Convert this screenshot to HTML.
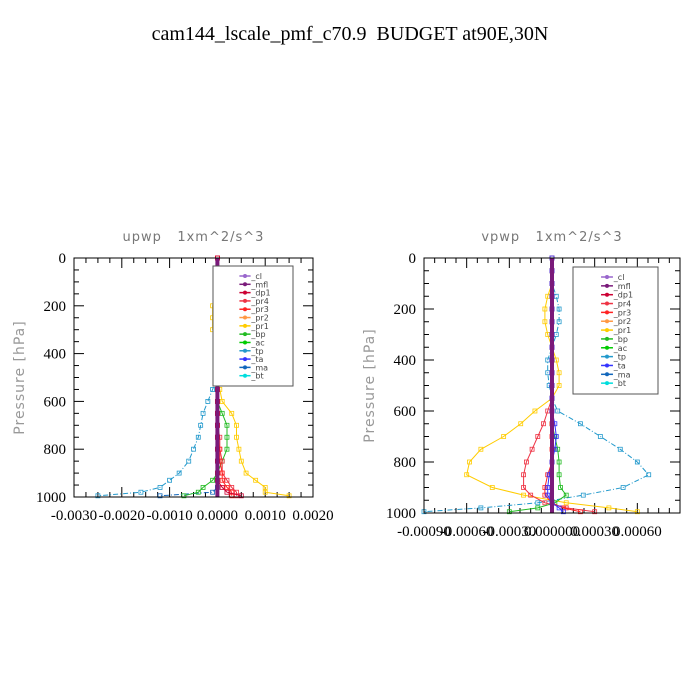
<!DOCTYPE html>
<html><head><meta charset="utf-8"><style>
html,body{margin:0;padding:0;background:#fff;}
svg{display:block;}
text{white-space:pre;}
</style></head><body>
<svg id="chart" width="700" height="700" xmlns="http://www.w3.org/2000/svg">
<text x="350" y="40" text-anchor="middle" font-family="Liberation Serif, serif" font-size="20" fill="#000" xml:space="preserve">cam144_lscale_pmf_c70.9  BUDGET at90E,30N</text>
</svg>
<script>
const levels=[0,50,100,150,200,250,300,350,400,450,500,550,600,650,700,750,800,850,900,930,960,980,995];
const seriesNames=["_cl","_mfl","_dp1","_pr4","_pr3","_pr2","_pr1","_bp","_ac","_tp","_ta","_ma","_bt"];
const seriesColors=["#9966cc","#7a1a7a","#cc0033","#ee3344","#ff2222","#ff9944","#ffcc00","#22bb22","#00cc00","#2299cc","#3333ff","#1166bb","#00dddd"];
// upwp values (m^2/s^3)
const upwpTp=[0,0,0,0,0,0,0,0,0,0,0,-0.0001,-0.0002,-0.0003,-0.00035,-0.0004,-0.0005,-0.0006,-0.0008,-0.001,-0.0012,-0.0016,-0.0025];
const upwpPr1=[0,0,0,-0.00005,-0.0001,-0.0001,-0.0001,0,0,0,0,0.00005,0.0001,0.0003,0.0004,0.0004,0.00045,0.0005,0.0006,0.0008,0.001,0.001,0.0015];
const upwpBp=[0,0,0,0,0,0,0,0,0,0,0,0,0,0.0001,0.0002,0.0002,0.0002,0.0001,0,-0.0001,-0.0003,-0.0004,-0.0007];
const upwpPr4=[0,0,0,0,0,0,0,0,0,0,0,0,0,0,0,0.00005,0.00005,0.0001,0.0001,0.0002,0.0003,0.0004,0.0004];
const upwpPr3=[0,0,0,0,0,0,0,0,0,0,0,0,0,0,0,0,0.00005,0.00005,0.0001,0.0001,0.0002,0.0003,0.0003];
const upwpDp1=[0,0,0,0,0,0,0,0,0,0,0,0,0,0,0,0,0,0,0,0,0.0001,0.0002,0.0005];
const upwpMa=[0,0,0,0,0,0,0,0,0,0,0,0,0,0,0,0,0,0,0,0,0,-0.0001,-0.0012];
// vpwp values
const vpwpTp=[0,0,0,0.00003,0.00005,0.00005,0.00003,0,-0.00003,-0.00003,-0.00002,0,0.00004,0.0002,0.00034,0.00048,0.0006,0.00068,0.0005,0.00022,-0.0001,-0.0005,-0.0009];
const vpwpPr1=[0,0,0,-0.00003,-0.00005,-0.00005,-0.00003,0,0.00003,0.00005,0.00005,0,-0.00012,-0.00022,-0.00034,-0.0005,-0.00058,-0.0006,-0.00042,-0.0002,0.0001,0.0004,0.0006];
const vpwpPr4=[0,0,0,0,0,0,0,0,0,0,0,0,-0.00003,-0.00006,-0.0001,-0.00014,-0.00018,-0.0002,-0.0002,-0.00015,-0.00005,0.0001,0.0003];
const vpwpBp=[0,0,0,0,0,0,0,0,0,0,0,0,0,0,0.00002,0.00004,0.00005,0.00005,0.00006,0.0001,0.00002,-0.0001,-0.0003];
const vpwpPr3=[0,0,0,0,0,0,0,0,0,0,0,0,0,0,0,0,0,-0.00003,-0.00005,-0.00005,0,0.00008,0.0002];
const vpwpTa=[0,0,0,0,0,0,0,0,0,0,0,0,0,0.00002,0.00003,0.00002,0,-0.00002,-0.00003,-0.00003,0,0.00005,0.00008];
const upwpXTicks=[-0.003,-0.002,-0.001,0,0.001,0.002];
const upwpXLabels=["-0.0030","-0.0020","-0.0010","0.0000","0.0010","0.0020"];
const vpwpXTicks=[-0.0009,-0.0006,-0.0003,0,0.0003,0.0006];
const vpwpXLabels=["-0.00090","-0.00060","-0.00030","0.000000","0.00030","0.00060"];
const yTicks=[0,200,400,600,800,1000];
const NS="http://www.w3.org/2000/svg";
const svg=document.getElementById('chart');
function mk(tag,attrs,parent){const e=document.createElementNS(NS,tag);for(const k in attrs)e.setAttribute(k,attrs[k]);(parent||svg).appendChild(e);return e;}
function panel(cfg){
  const g=mk('g',{});
  
  
  const X=v=>cfg.x0+(v-cfg.xmin)/(cfg.xmax-cfg.xmin)*(cfg.x1-cfg.x0);
  const Y=p=>cfg.y0+p/1000*(cfg.y1-cfg.y0);
  const t=mk('text',{x:(cfg.x0+cfg.x1)/2,y:cfg.y0-17,'text-anchor':'middle','font-family':'DejaVu Sans, sans-serif','font-size':'13',fill:'#777','letter-spacing':'1'},g);
  t.textContent=cfg.title;
  
  
  const yt=mk('text',{transform:`translate(${cfg.x0-50},${(cfg.y0+cfg.y1)/2}) rotate(-90)`,'text-anchor':'middle','font-family':'DejaVu Sans, sans-serif','font-size':'14',fill:'#999','letter-spacing':'1'},g);
  yt.textContent='Pressure [hPa]';
  
  
  for(let p=0;p<=1000;p+=50){
    const len=p%200===0?10:5;
    mk('line',{x1:cfg.x0,x2:cfg.x0+len,y1:Y(p),y2:Y(p),stroke:'#000'},g);
    mk('line',{x1:cfg.x1,x2:cfg.x1-len,y1:Y(p),y2:Y(p),stroke:'#000'},g);
  }
  yTicks.forEach(p=>{const l=mk('text',{x:cfg.x0-8,y:Y(p)+5,'text-anchor':'end','font-family':'Liberation Serif, serif','font-size':'15'},g);l.textContent=p;
    
    });
  const step=(cfg.xTicks[1]-cfg.xTicks[0])/4;
  for(let v=cfg.xmin;v<=cfg.xmax+1e-12;v+=step){
    const maj=cfg.xTicks.some(t=>Math.abs(t-v)<step/10);
    const len=maj?10:5;
    mk('line',{x1:X(v),x2:X(v),y1:cfg.y1,y2:cfg.y1-len,stroke:'#000'},g);
    mk('line',{x1:X(v),x2:X(v),y1:cfg.y0,y2:cfg.y0+len,stroke:'#000'},g);
  }
  cfg.xTicks.forEach((v,i)=>{const l=mk('text',{x:X(v),y:cfg.y1+23,'text-anchor':'middle','font-family':'Liberation Serif, serif','font-size':'15'},g);l.textContent=cfg.xLabels[i];
    
    });
  cfg.series.forEach(s=>{
    const idx=seriesNames.indexOf(s.n);const col=seriesColors[idx];
    const pts=levels.map((p,i)=>X(s.v[i]).toFixed(1)+','+Y(p).toFixed(1)).join(' ');
    const pl=mk('polyline',{points:pts,fill:'none',stroke:col,'stroke-width':'1','stroke-dasharray':s.n==='_tp'||s.n==='_ma'?'5,2,1,2':'none'},g);
    
    
    levels.forEach((p,i)=>{mk('rect',{x:X(s.v[i])-2,y:Y(p)-2,width:4,height:4,fill:'none',stroke:col,'stroke-width':'0.8'},g);});
  });
  const c=mk('line',{x1:X(0),x2:X(0),y1:cfg.y0,y2:cfg.y1,stroke:'#7a1a7a','stroke-width':'4'},g);
  
  
  mk('rect',{x:cfg.x0,y:cfg.y0,width:cfg.x1-cfg.x0,height:cfg.y1-cfg.y0,fill:'none',stroke:'#000','stroke-width':'1'},g);
  const lg=mk('g',{},g);
  
  
  mk('rect',{x:cfg.lx,y:cfg.ly,width:cfg.lw,height:cfg.lh,fill:'#fff',stroke:'#555'},lg);
  const dy=(cfg.lh-12)/seriesNames.length;
  seriesNames.forEach((n,i)=>{
    const yy=cfg.ly+10+dy*i;
    mk('line',{x1:cfg.lx+cfg.lw*0.33,x2:cfg.lx+cfg.lw*0.47,y1:yy,y2:yy,stroke:seriesColors[i],'stroke-width':'1.5'},lg);
    mk('circle',{cx:cfg.lx+cfg.lw*0.40,cy:yy,r:2,fill:seriesColors[i]},lg);
    const tx=mk('text',{x:cfg.lx+cfg.lw*0.48,y:yy+3,'font-family':'DejaVu Sans, sans-serif','font-size':'8',fill:'#444'},lg);
    tx.textContent=n;
    
    
  });
}
panel({name:'upwp',title:'upwp   1xm^2/s^3',x0:74,x1:313,y0:258,y1:497,xmin:-0.003,xmax:0.002,xTicks:upwpXTicks,xLabels:upwpXLabels,lx:213,ly:266,lw:80,lh:120,
  series:[{n:'_tp',v:upwpTp},{n:'_ma',v:upwpMa},{n:'_pr1',v:upwpPr1},{n:'_bp',v:upwpBp},{n:'_pr4',v:upwpPr4},{n:'_pr3',v:upwpPr3},{n:'_dp1',v:upwpDp1}]});
panel({name:'vpwp',title:'vpwp   1xm^2/s^3',x0:424,x1:680,y0:258,y1:513,xmin:-0.0009,xmax:0.0009,xTicks:vpwpXTicks,xLabels:vpwpXLabels,lx:573,ly:267,lw:85,lh:127,
  series:[{n:'_tp',v:vpwpTp},{n:'_pr1',v:vpwpPr1},{n:'_pr4',v:vpwpPr4},{n:'_bp',v:vpwpBp},{n:'_pr3',v:vpwpPr3},{n:'_ta',v:vpwpTa}]});
</script>
</body></html>
